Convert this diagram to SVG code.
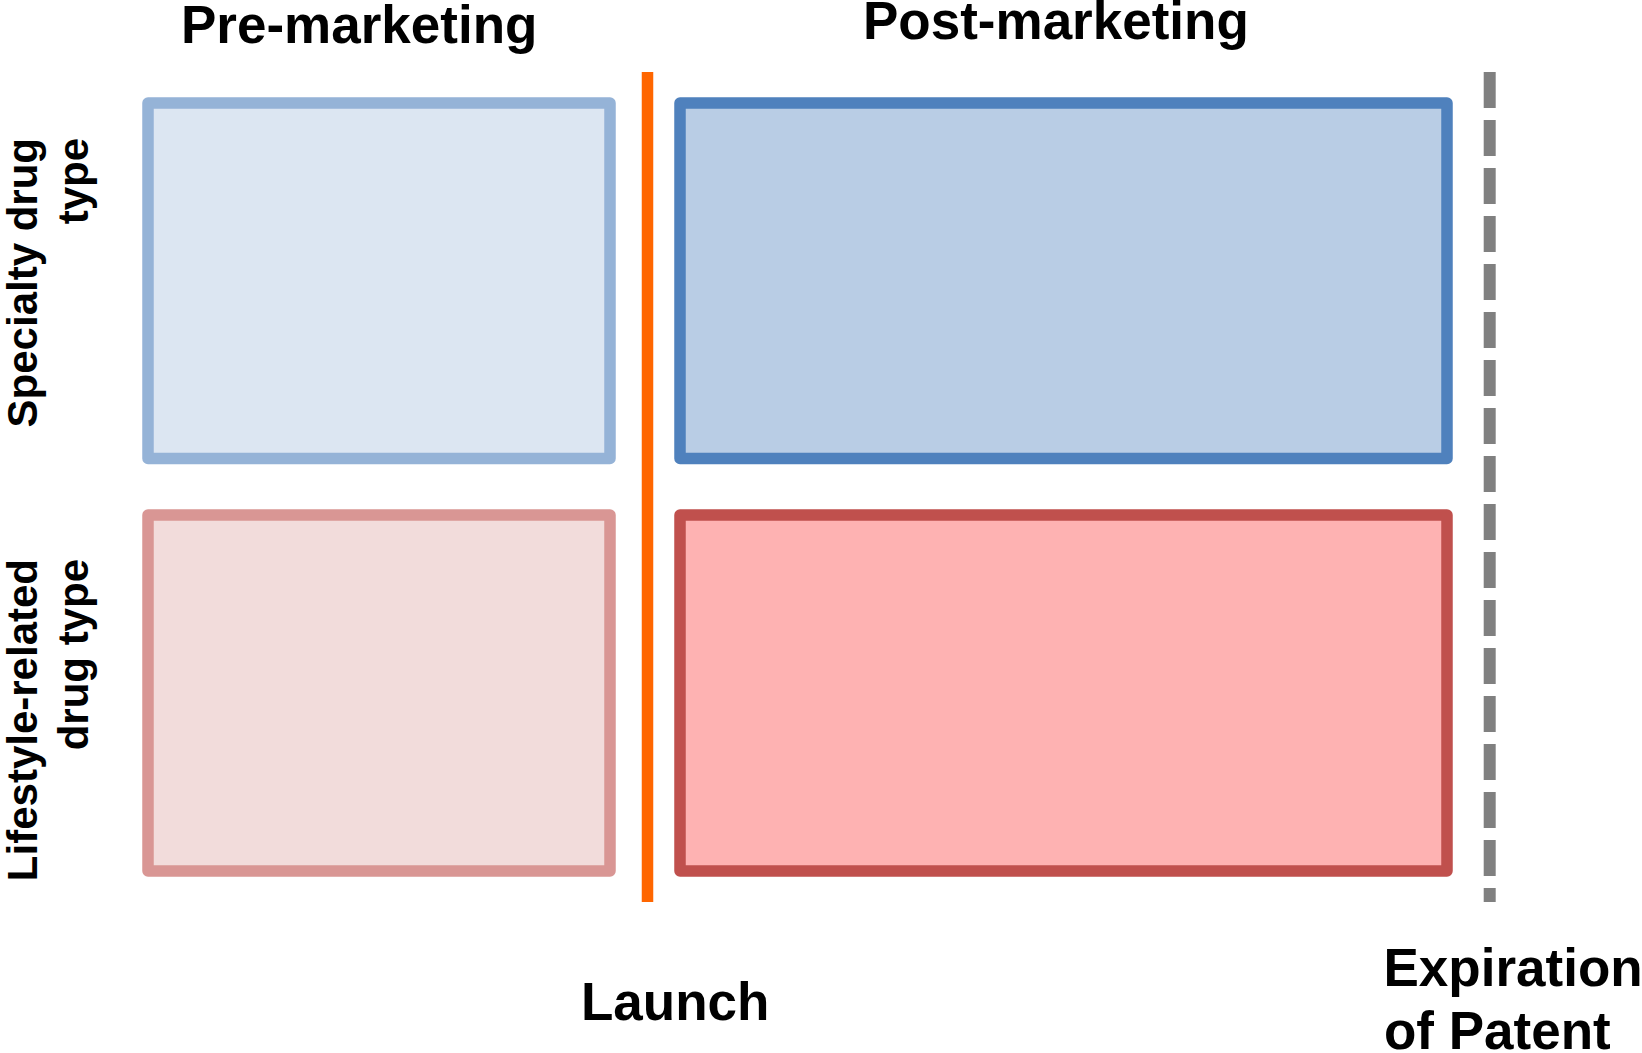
<svg xmlns="http://www.w3.org/2000/svg" width="1642" height="1053" viewBox="0 0 1642 1053">
  <style>
    .lbl { font-family: "Liberation Sans", Arial, sans-serif; font-weight: bold; fill: #000; }
    .head { font-size: 53px; }
    .side { font-size: 42px; }
    .box { stroke-width: 11.5; stroke-linejoin: round; }
  </style>
  <rect width="1642" height="1053" fill="#ffffff"/>

  <!-- phase headings -->
  <text id="pre-marketing" class="lbl head" x="181" y="43">Pre-marketing</text>
  <text id="post-marketing" class="lbl head" x="863" y="39">Post-marketing</text>

  <!-- row labels, reading bottom to top -->
  <g id="specialty-label">
    <text class="lbl side" text-anchor="end" transform="translate(37,138) rotate(-90)">Specialty drug</text>
    <text class="lbl side" text-anchor="end" transform="translate(87.5,138) rotate(-90)">type</text>
  </g>
  <g id="lifestyle-label">
    <text class="lbl side" text-anchor="end" transform="translate(37,559) rotate(-90)">Lifestyle-related</text>
    <text class="lbl side" text-anchor="end" transform="translate(87.5,559) rotate(-90)">drug type</text>
  </g>

  <!-- quadrants -->
  <g id="specialty-pre">
    <rect class="box" x="148" y="103" width="462" height="355.5" fill="#DCE6F2" stroke="#95B3D7"/>
  </g>
  <g id="specialty-post">
    <rect class="box" x="680" y="103" width="767" height="355.5" fill="#B9CDE5" stroke="#4F81BD"/>
  </g>
  <g id="lifestyle-pre">
    <rect class="box" x="148" y="515" width="462" height="356" fill="#F2DCDB" stroke="#D99694"/>
  </g>
  <g id="lifestyle-post">
    <rect class="box" x="680" y="515" width="767" height="356" fill="#FEB2B2" stroke="#C0504D"/>
  </g>

  <!-- timeline markers -->
  <g id="connectors">
    <line id="launch-line" x1="647.5" y1="72" x2="647.5" y2="902" stroke="#FF6600" stroke-width="11.5"/>
    <line id="patent-line" x1="1489.7" y1="72" x2="1489.7" y2="902" stroke="#808080" stroke-width="12" stroke-dasharray="36 12"/>
  </g>

  <!-- marker captions -->
  <text id="launch" class="lbl head" x="581" y="1020">Launch</text>
  <g id="expiration">
    <text class="lbl head" x="1383.5" y="985.5">Expiration</text>
    <text class="lbl head" x="1384" y="1049">of Patent</text>
  </g>
</svg>
